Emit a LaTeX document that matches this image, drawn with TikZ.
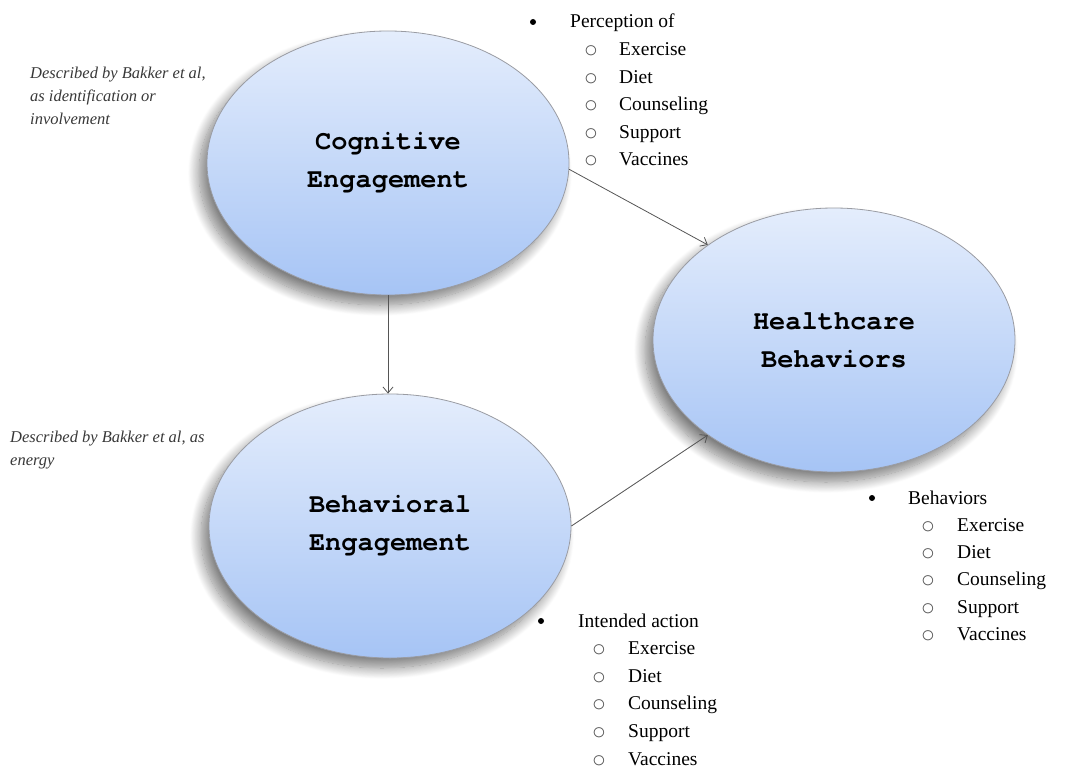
\documentclass[tikz,border=0pt]{standalone}
\usepackage{fontspec}
\setmainfont{Liberation Serif}
\setmonofont{texgyrecursor}[Extension=.otf, UprightFont=*-regular, BoldFont=*-bold]
\usepackage{tikz}
\usetikzlibrary{shapes.geometric, arrows.meta, positioning, shadows.blur}
\usepackage{xcolor}
\definecolor{ovaltop}{HTML}{E4EDFC}
\definecolor{ovalbot}{HTML}{A6C4F5}
\definecolor{ovalline}{HTML}{9A9CA3}
\definecolor{linkgray}{HTML}{555555}

\begin{document}
\begin{tikzpicture}[x=1pt, y=-1pt,
    oval/.style={ellipse, draw=ovalline, line width=0.8pt, minimum width=362pt, minimum height=264pt, inner sep=0pt,
      top color=ovaltop, bottom color=ovalbot,
      blur shadow={shadow xshift=-8pt, shadow yshift=-10pt, shadow blur radius=11pt, shadow blur steps=16, shadow opacity=50},
      font=\ttfamily\bfseries\fontsize{27}{38}\selectfont, align=center},
    link/.style={draw=linkgray, line width=0.8pt, -{Straight Barb[length=6pt, width=10pt]}},
    note/.style={font=\itshape\fontsize{16.5}{23}\selectfont, align=left, anchor=north west, inner sep=0pt, text=black!78},
    head/.style={font=\fontsize{19.5}{27}\selectfont, anchor=base west, inner sep=0pt},
    dot/.style={circle, fill=black, minimum size=6pt, inner sep=0pt},
    ring/.style={font=\ttfamily\fontsize{23}{27}\selectfont, text=black!65, anchor=base, inner sep=0pt}]
    \useasboundingbox (0,0) rectangle (1083,770);
    % Engagement ovals
    \node[oval] (cog) at (388,163) {Cognitive\\Engagement};
    \node[oval] (beh) at (390,526) {Behavioral\\Engagement};
    \node[oval] (hc) at (834,340) {Healthcare\\Behaviors};
    % Links
    \draw[link] (cog.-2) -- (hc.143);
    \draw[link] (cog.south) -- (cog.south |- beh.north);
    \draw[link] (beh.0) -- (hc.217);
    % Notes
    \node[note] (cog-note) at (30,67) {Described by Bakker et al,\\as identification or\\involvement};
    \node[note] (beh-note) at (10,431) {Described by Bakker et al, as\\energy};
    % Perception list
    \node[dot] (perc-dot) at (533,22) {};
    \node[head] (perc) at (570,28) {Perception of};
    \foreach \t [count=\i] in {Exercise,Diet,Counseling,Support,Vaccines}{
        \node[ring] (perc-o\i) at (591,28+27.6*\i) {o};
        \node[head] (perc-\i) at (619,28+27.6*\i) {\t};
    }
    % Intended action list
    \node[dot] (act-dot) at (541,621) {};
    \node[head] (act) at (578,627) {Intended action};
    \foreach \t [count=\i] in {Exercise,Diet,Counseling,Support,Vaccines}{
        \node[ring] (act-o\i) at (599,627+27.6*\i) {o};
        \node[head] (act-\i) at (628,627+27.6*\i) {\t};
    }
    % Behaviors list
    \node[dot] (bhv-dot) at (872,498) {};
    \node[head] (bhv) at (908,504) {Behaviors};
    \foreach \t [count=\i] in {Exercise,Diet,Counseling,Support,Vaccines}{
        \node[ring] (bhv-o\i) at (928,504+27.3*\i) {o};
        \node[head] (bhv-\i) at (957,504+27.3*\i) {\t};
    }
\end{tikzpicture}
\end{document}
